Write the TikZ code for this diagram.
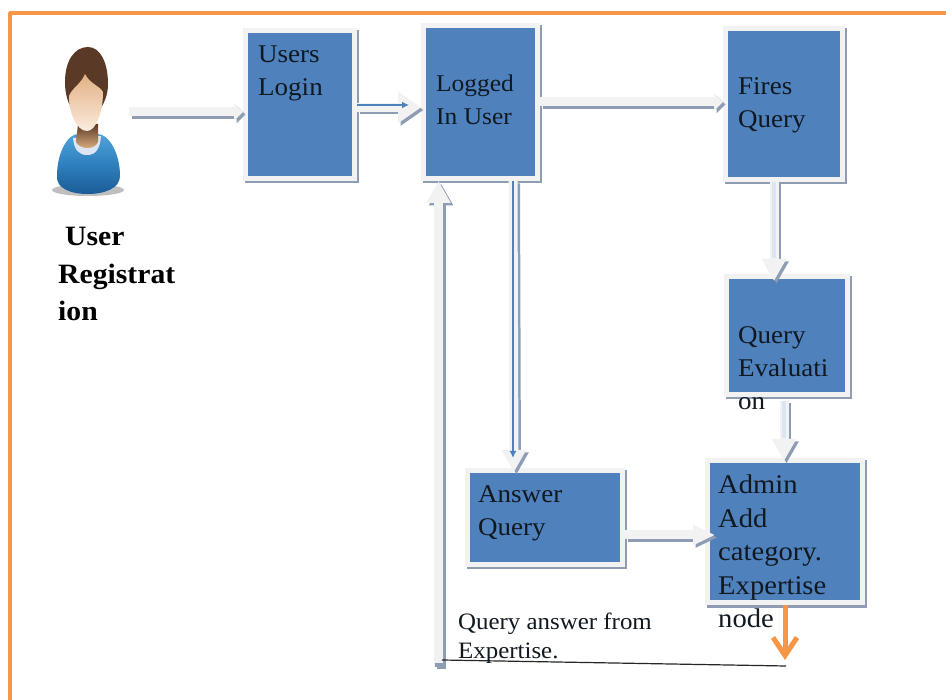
\documentclass[tikz,border=0pt]{standalone}
\usepackage{fontspec}
\setmainfont[FakeStretch=1.06]{Liberation Serif}
\usetikzlibrary{arrows.meta,calc}
\definecolor{frameor}{HTML}{F79646}
\definecolor{boxblue}{HTML}{4F81BD}
\definecolor{boxedge}{HTML}{F2F2F2}
\definecolor{shadeg}{HTML}{8E9DB3}
\definecolor{paleblue}{HTML}{DCE6F2}
\definecolor{inktext}{HTML}{101820}
\definecolor{shirtlt}{HTML}{4FA3D8}
\definecolor{shirtmd}{HTML}{2F80BE}
\definecolor{shirtdk}{HTML}{1A5C96}
\definecolor{hairbr}{HTML}{5A3A26}
\definecolor{skindk}{HTML}{E2B184}
\definecolor{skinlt}{HTML}{FBEBDD}
\tikzset{
  x=1pt,y=-1pt,
  flowbox/.style={draw=boxedge,line width=5pt,fill=boxblue,inner sep=0pt,rectangle,
    preaction={draw=shadeg,line width=5pt,transform canvas={xshift=2pt,yshift=-2.5pt}}},
  boxtext/.style={anchor=north west,align=left,inner sep=0pt,font=\fontsize{25.5}{33}\selectfont,text=inktext},
  admintext/.style={boxtext,font=\fontsize{27}{33.5}\selectfont},
  loggedtext/.style={boxtext,font=\fontsize{24}{33}\selectfont},
  notetext/.style={anchor=north west,align=left,inner sep=0pt,font=\fontsize{23.5}{29}\selectfont,text=inktext},
  regtext/.style={anchor=north west,align=left,inner sep=0pt,font=\fontsize{28}{37.5}\selectfont\bfseries,text=black},
  fatshade/.style={draw=shadeg,fill=shadeg,transform canvas={xshift=2.5pt,yshift=-2.5pt}},
  fatlight/.style={draw=boxedge,fill=boxedge},
  fatwide/.style={line width=9pt,-{Triangle[length=22pt,width=23pt,inset=0pt]}},
  fatnarrow/.style={line width=9pt,-{Triangle[length=9pt,width=17pt,inset=0pt]}},
  fatbig/.style={line width=9pt,-{Triangle[length=23pt,width=30pt,inset=0pt]}},
  fatlong/.style={line width=9pt,-{Triangle[length=22pt,width=19pt,inset=0pt]}},
  blueline/.style={draw=boxblue,line width=1.8pt,-{Latex[length=7pt,width=7pt]}},
  paleline/.style={draw=paleblue,line width=3.5pt},
  orangearrow/.style={draw=frameor,line width=5pt,-{Straight Barb[length=18pt,width=24pt]}},
  answerline/.style={draw=black!85,line width=1.2pt},
}
\newcommand{\fatpath}[3]{%
  \draw[fatshade,#1] #2 -- #3;
  \draw[fatlight,#1] #2 -- #3;
}
\begin{document}
\begin{tikzpicture}
\useasboundingbox (0,0) rectangle (946,700);
\fill[white] (0,0) rectangle (946,700);
\draw[frameor,line width=3.5pt,line join=round] (10,700) -- (10,13) -- (946,13);

% person
\fill[black!45,opacity=.55] (88,190) ellipse (36 and 6);
\shade[top color=shirtlt,bottom color=shirtdk,middle color=shirtmd]
  (57,176) .. controls (57,152) and (68,134) .. (78,134) -- (98,134) .. controls (108,134) and (120,152) .. (120,176)
  .. controls (120,188) and (105,194) .. (88,194) .. controls (70,194) and (56,188) .. (57,176) -- cycle;
\fill[paleblue] (73,138) .. controls (74,150) and (79,155) .. (87,155) .. controls (95,155) and (100,150) .. (101,136) -- cycle;
\shade[top color=hairbr,bottom color=skindk] (78,124) -- (98,124) -- (98,142) .. controls (95,150) and (80,150) .. (76,142) -- cycle;
\fill[hairbr] (65,82) .. controls (65,60) and (75,47) .. (88,47) .. controls (100,47) and (108,62) .. (108,84)
  .. controls (108,94) and (105,101) .. (101,108) -- (71,108) .. controls (67,100) and (65,92) .. (65,82) -- cycle;
\shade[top color=skindk,bottom color=skinlt]
  (69,96) .. controls (72,88) and (81,84) .. (85,74) .. controls (90,84) and (100,86) .. (103,92)
  .. controls (103,112) and (96,131) .. (87,131) .. controls (77,131) and (69,114) .. (69,96) -- cycle;

% boxes
\node[flowbox,minimum width=109pt,minimum height=148pt] (login) at (300,104.5) {};
\node[flowbox,minimum width=114pt,minimum height=153pt] (logged) at (480.5,102) {};
\node[flowbox,minimum width=117pt,minimum height=151pt] (fires) at (784,104) {};
\node[flowbox,minimum width=121pt,minimum height=118pt] (qeval) at (787,335.5) {};
\node[flowbox,minimum width=155pt,minimum height=94pt] (answer) at (545,517.5) {};
\node[flowbox,minimum width=155pt,minimum height=142pt] (admin) at (785,531.5) {};

\coordinate (userend) at (129,112);
\coordinate (retlow) at (438.5,666);
\coordinate (retleft) at (442,660);
\coordinate (retright) at (786,666);
\coordinate (firesout) at (774,182);
\coordinate (qin) at (774,281);
\coordinate (qout) at (784,401);
\coordinate (adminin) at (784,461);
\coordinate (logout) at (513,181);
\coordinate (ansin) at (514,472);
\coordinate (ansout) at ([yshift=-17.5pt]answer.east);
\coordinate (admintip) at (715,535);

% connectors
\fatpath{fatnarrow}{(userend)}{(login.west |- userend)}
\fatpath{fatbig}{([yshift=-3pt]login.east)}{([yshift=-3pt]login.east -| logged.west)}
\draw[blueline] (login.east |- 0,105) -- (409,105);
\fatpath{fatnarrow}{(logged.east)}{(fires.west |- logged.east)}
\fatpath{fatwide}{(firesout)}{(qin)}
\draw[paleline] (firesout) -- (774,258);
\fatpath{fatwide}{(qout)}{(adminin)}
\draw[paleline] (qout) -- (784,438);
\fatpath{fatwide}{(logout)}{(ansin)}
\draw[blueline] (logout) -- (513,458);
\fatpath{fatlong}{(ansout)}{(admintip)}
\fatpath{fatwide}{(retlow)}{(retlow |- logged.south)}
\draw[shadeg,line width=4pt] (435,665) -- (446,665);
\draw[answerline] (retleft) -- (retright);
\draw[orangearrow] (admin.south) -- (785,660);

% texts
\node[regtext] (regtxt) at (58,227) {\hspace{7pt}User\\Registrat\\ion};
\node[boxtext] (t1) at (258,46) {Users\\Login};
\node[loggedtext] (t2) at (436,75) {Logged\\In User};
\node[boxtext] (t3) at (738,77) {Fires\\Query};
\node[boxtext] (t4) at (738,326) {Query\\Evaluati\\on};
\node[boxtext] (t5) at (478,485) {Answer\\Query};
\node[admintext] (t6) at (718,475) {Admin\\Add\\category.\\Expertise\\node};
\node[notetext] (t7) at (458,613) {Query answer from\\Expertise.};
\end{tikzpicture}
\end{document}
